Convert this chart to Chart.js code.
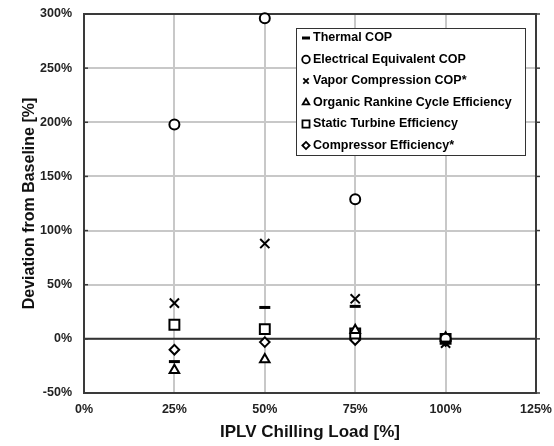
<!DOCTYPE html>
<html><head><meta charset="utf-8">
<script src="https://cdn.jsdelivr.net/npm/chart.js@4/dist/chart.umd.min.js"></script>
<style>html,body{margin:0;padding:0;background:#fff}#wrap{width:554px;height:446px}</style>
</head><body><div id="wrap"><canvas id="c" width="554" height="446"></canvas></div>
<script>
const loads = [25, 50, 75, 100];
const seriesNames = ["Thermal COP","Electrical Equivalent COP","Vapor Compression COP*","Organic Rankine Cycle Efficiency","Static Turbine Efficiency","Compressor Efficiency*"];
const thermalCOP    = [-21, 29, 30, -3];
const electricalCOP = [198, 296, 129, 0];
const vaporCOP      = [33, 88, 37, -4];
const orcEff        = [-29, -19, 8, 1];
const turbineEff    = [13, 9, 5, 0];
const compressorEff = [-10, -3, -1, -2];
const xTicks = [0, 25, 50, 75, 100, 125];
const yTicks = [-50, 0, 50, 100, 150, 200, 250, 300];

const seriesValues = [thermalCOP, electricalCOP, vaporCOP, orcEff, turbineEff, compressorEff];
const styles = [
  {pointStyle:'line', radius:5.5, borderWidth:3},
  {pointStyle:'circle', radius:5, borderWidth:2},
  {pointStyle:'crossRot', radius:6.5, borderWidth:2},
  {pointStyle:'triangle', radius:5.5, borderWidth:2},
  {pointStyle:'rect', radius:7, borderWidth:2},
  {pointStyle:'rectRot', radius:4.8, borderWidth:2}
];
const datasets = seriesNames.map((name, i) => ({
  label: name,
  data: loads.map((x, j) => ({x: x, y: seriesValues[i][j]})),
  pointStyle: styles[i].pointStyle,
  pointRadius: styles[i].radius,
  pointBorderWidth: styles[i].borderWidth,
  borderColor: '#000',
  pointBorderColor: '#000',
  pointBackgroundColor: '#fff',
  backgroundColor: '#fff',
  showLine: false,
  clip: false
}));

const framePlugin = {
  id: 'frame',
  beforeDatasetsDraw(chart) {
    const {ctx, chartArea: a, scales} = chart;
    ctx.save();
    const y0 = scales.y.getPixelForValue(0);
    ctx.strokeStyle = '#333';
    ctx.lineWidth = 2;
    ctx.beginPath(); ctx.moveTo(a.left, y0); ctx.lineTo(a.right, y0); ctx.stroke();
    ctx.strokeStyle = '#3a3a3a';
    ctx.strokeRect(a.left, a.top, a.right - a.left, a.bottom - a.top);
    ctx.lineWidth = 1.5;
    yTicks.forEach(v => {
      const y = scales.y.getPixelForValue(v);
      ctx.beginPath(); ctx.moveTo(a.left, y); ctx.lineTo(a.left + 4, y); ctx.stroke();
      ctx.beginPath(); ctx.moveTo(a.right, y); ctx.lineTo(a.right + 4, y); ctx.stroke();
    });
    ctx.restore();
  },
  afterDraw(chart) {
    const {ctx} = chart;
    ctx.save();
    const bx = 296, by = 28, bw = 229, bh = 127;
    ctx.fillStyle = '#fff';
    ctx.fillRect(bx, by, bw, bh);
    ctx.strokeStyle = '#333';
    ctx.lineWidth = 1;
    ctx.strokeRect(bx + 0.5, by + 0.5, bw, bh);
    ctx.font = 'bold 12.5px "Liberation Sans", Arial, sans-serif';
    ctx.textBaseline = 'middle';
    chart.data.datasets.forEach((ds, i) => {
      const y = 38 + i * 21.5;
      ctx.strokeStyle = '#000';
      ctx.fillStyle = '#fff';
      ctx.lineWidth = i === 0 ? 3 : 1.8;
      Chart.helpers.drawPoint(ctx, {pointStyle: ds.pointStyle, radius: i===0 ? 4 : (i===4 ? 5 : (i===5 ? 3.6 : 3.8)), rotation: 0, borderWidth: ctx.lineWidth}, 306, y);
      ctx.fillStyle = '#000';
      ctx.fillText(ds.label, 313, y);
    });
    ctx.restore();
  }
};

new Chart(document.getElementById('c'), {
  type: 'scatter',
  data: { datasets },
  options: {
    responsive: false,
    animation: false,
    devicePixelRatio: 1,
    layout: { padding: { top: 14, right: 18, left: 0, bottom: 0 } },
    plugins: { legend: { display: false }, tooltip: { enabled: false } },
    scales: {
      x: {
        type: 'linear', min: 0, max: 125,
        afterBuildTicks(scale) { scale.ticks = xTicks.map(v => ({value: v})); },
        afterFit(scale) { scale.height = 53; scale.paddingLeft = 0; scale.paddingRight = 0; },
        grid: { color: '#c8c8c8', lineWidth: 2, drawTicks: false },
        border: { display: false },
        ticks: { padding: 9, color: '#222', font: { family: '"Liberation Sans", Arial, sans-serif', size: 12.5, weight: 'bold' }, callback: v => v + '%' },
        title: { display: true, text: 'IPLV Chilling Load [%]', color: '#111', padding: { bottom: 3, top: 0 }, font: { family: '"Liberation Sans", Arial, sans-serif', size: 17, weight: 'bold' } }
      },
      y: {
        type: 'linear', min: -50, max: 300,
        afterBuildTicks(scale) { scale.ticks = yTicks.map(v => ({value: v})); },
        afterFit(scale) { scale.width = 84; scale.paddingTop = 0; scale.paddingBottom = 0; },
        grid: { color: '#c8c8c8', lineWidth: 2, drawTicks: false },
        border: { display: false },
        ticks: { padding: 12, color: '#222', font: { family: '"Liberation Sans", Arial, sans-serif', size: 12.5, weight: 'bold' }, callback: v => v + '%' },
        title: { display: true, text: 'Deviation from Baseline [%]', color: '#111', padding: { top: 20, bottom: 0 }, font: { family: '"Liberation Sans", Arial, sans-serif', size: 16, weight: 'bold' } }
      }
    }
  },
  plugins: [framePlugin]
});
</script>
</body></html>
